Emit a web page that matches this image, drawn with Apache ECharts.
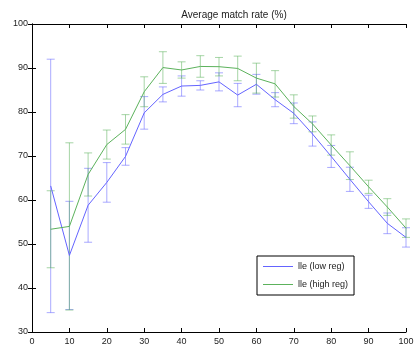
<!DOCTYPE html>
<html><head><meta charset="utf-8">
<script src="https://cdn.jsdelivr.net/npm/echarts@6/dist/echarts.min.js"></script>
<style>html,body{margin:0;padding:0;background:#fff}#c{width:419px;height:350px}</style>
</head><body><div id="c"></div>
<script>
var xValues = [5,10,15,20,25,30,35,40,45,50,55,60,65,70,75,80,85,90,95,100];
var lowRegMean = [63.2,47.4,58.8,64.0,69.9,79.8,84.0,85.9,86.05,86.85,83.85,86.3,82.8,79.7,75.0,69.9,64.7,59.6,54.7,51.5];
var lowRegErr  = [28.8,12.3,8.4,4.5,2.0,3.7,1.7,2.3,1.05,2.05,2.65,2.25,1.6,2.35,2.75,2.5,2.75,1.5,2.35,2.2];
var highRegMean = [53.35,54.0,65.8,72.6,76.05,84.6,90.1,89.55,90.35,90.3,89.9,87.7,86.4,81.25,77.3,72.5,67.8,63.0,58.4,53.6];
var highRegErr  = [8.75,19.0,4.9,3.3,3.35,3.4,3.6,1.85,2.45,2.1,2.8,3.4,3.0,2.65,1.8,2.3,3.15,1.5,1.9,2.1];
var xTicks = [0,10,20,30,40,50,60,70,80,90,100];
var yTicks = [30,40,50,60,70,80,90,100];
var titleText = 'Average match rate (%)';
var names = ['lle (low reg)', 'lle (high reg)'];

var blue = '#6464ff', blueErr = 'rgba(100,100,255,0.55)';
var green = '#5cb25c', greenErr = 'rgba(92,178,92,0.55)';

function pairs(m){ return xValues.map(function(x,i){ return [x, m[i]]; }); }
function errData(m,e){ return xValues.map(function(x,i){ return [x, m[i]-e[i], m[i]+e[i]]; }); }
function errSeries(data,color){
  return {
    type:'custom', silent:true, z:1,
    renderItem:function(params, api){
      var x = api.value(0);
      var lo = api.coord([x, api.value(1)]);
      var hi = api.coord([x, api.value(2)]);
      var w = 4;
      var st = {stroke:color, lineWidth:1, fill:null};
      return {type:'group', children:[
        {type:'line', shape:{x1:lo[0],y1:lo[1],x2:hi[0],y2:hi[1]}, style:st},
        {type:'line', shape:{x1:lo[0]-w,y1:lo[1],x2:lo[0]+w,y2:lo[1]}, style:st},
        {type:'line', shape:{x1:hi[0]-w,y1:hi[1],x2:hi[0]+w,y2:hi[1]}, style:st}
      ]};
    },
    encode:{x:0,y:[1,2]},
    data:data
  };
}
var font = 'Liberation Sans, Arial, sans-serif';
var axCommon = {
  axisLine:{show:true,lineStyle:{color:'#000',width:1}},
  axisTick:{show:true,inside:true,length:4,lineStyle:{color:'#000'}},
  splitLine:{show:false}
};
var chart = echarts.init(document.getElementById('c'));
chart.setOption({
  animation:false,
  backgroundColor:'#fff',
  title:{text:titleText,left:229,top:5,textAlign:'center',textStyle:{fontSize:10,fontWeight:'normal',color:'#222',fontFamily:font}},
  grid:{left:32,right:13,top:24,bottom:18},
  legend:{
    data:[{name:names[0],icon:'rect'},{name:names[1],icon:'rect'}],
    orient:'vertical', left:257, top:256, width:99,
    itemWidth:30, itemHeight:1, itemGap:9,
    padding:[6,6,6,6],
    backgroundColor:'#fff', borderColor:'#000', borderWidth:1, borderRadius:0,
    textStyle:{fontSize:9,color:'#222',fontFamily:font}
  },
  xAxis:[
    Object.assign({type:'value',min:0,max:100,interval:10,position:'bottom',
      axisLabel:{fontSize:9,color:'#222',fontFamily:font,margin:5,formatter:function(v){return xTicks.indexOf(v)>=0?String(v):'';}}},axCommon),
    Object.assign({type:'value',min:0,max:100,interval:10,position:'top',axisLabel:{show:false}},axCommon)
  ],
  yAxis:[
    Object.assign({type:'value',min:30,max:100,interval:10,position:'left',
      axisLabel:{fontSize:9,color:'#222',fontFamily:font,margin:4,formatter:function(v){return yTicks.indexOf(v)>=0?String(v):'';}}},axCommon),
    Object.assign({type:'value',min:30,max:100,interval:10,position:'right',axisLabel:{show:false}},axCommon)
  ],
  series:[
    errSeries(errData(lowRegMean,lowRegErr), blueErr),
    errSeries(errData(highRegMean,highRegErr), greenErr),
    {name:names[0],type:'line',data:pairs(lowRegMean),showSymbol:false,symbol:'none',z:3,
      itemStyle:{color:blue},lineStyle:{color:blue,width:1}},
    {name:names[1],type:'line',data:pairs(highRegMean),showSymbol:false,symbol:'none',z:3,
      itemStyle:{color:green},lineStyle:{color:green,width:1}}
  ]
});
</script></body></html>
